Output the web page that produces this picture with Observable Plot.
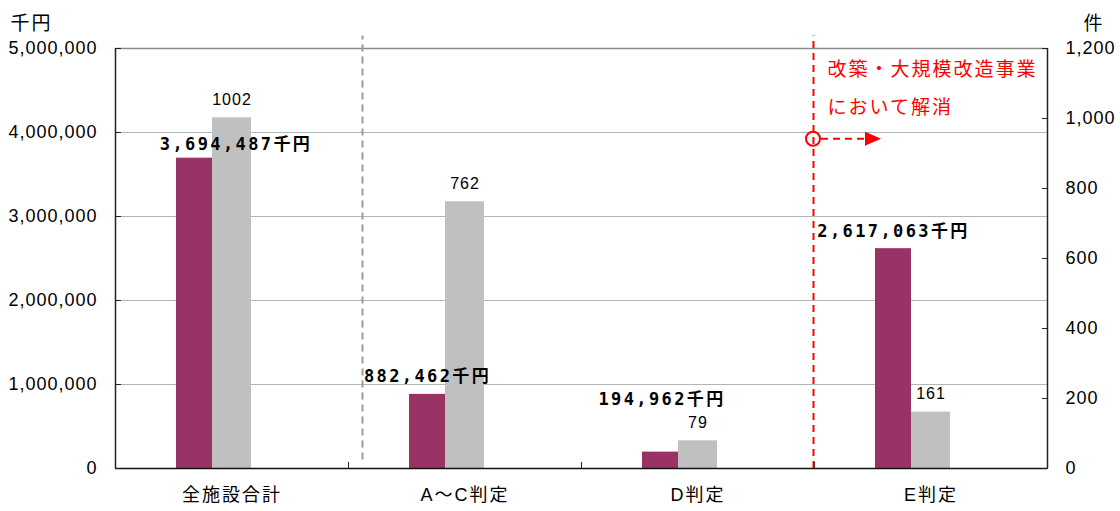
<!DOCTYPE html>
<html lang="ja">
<head>
<meta charset="utf-8">
<script src="https://cdn.jsdelivr.net/npm/d3@7"></script>
<script src="https://cdn.jsdelivr.net/npm/@observablehq/plot@0.6"></script>
<style>
  html, body { margin: 0; padding: 0; background: #fff; }
  #chart svg { display: block; }
</style>
</head>
<body>
<div id="chart"></div>
<script>
// 判定区分ごとの必要額（千円）と件数
const categories = ["全施設合計", "A～C判定", "D判定", "E判定"];
const amounts = [3694487, 882462, 194962, 2617063];   // 千円
const counts = [1002, 762, 79, 161];                   // 件
const amountTicks = [0, 1000000, 2000000, 3000000, 4000000, 5000000];
const countTicks = [0, 200, 400, 600, 800, 1000, 1200];
const amountUnit = "千円";
const countUnit = "件";
const noteLines = ["改築・大規模改造事業", "において解消"];
const noteCategory = "E判定";
const splitCategory = "A～C判定";

const amountMax = 5000000;
const countMax = 1200;
const k = amountMax / countMax; // 件数 → 左軸の単位へ

const rows = categories.map((c, i) => ({
  category: c,
  amount: amounts[i],
  count: counts[i],
  countY: counts[i] * k
}));

const fmt = d3.format(",");
const W = 1120, H = 511;
const ml = 115, mr = 73, mt = 48, mb = 43;
const bw = (W - ml - mr) / categories.length;

const lineTop = amountMax * 1.03;     // 破線は枠の少し上まで伸ばす
const splitBottom = amountMax * 0.02;
const noteLevel = 3920000;            // 丸印と矢印の高さ

// 丸印と破線矢印（E判定の区切り線から右向き）
function noteArrow(index, scales) {
  const x0 = scales.x(noteCategory) - 1;
  const y0 = scales.y(noteLevel);
  const g = d3.create("svg:g").attr("fill", "none").attr("stroke", "#ff0000").attr("stroke-width", 2);
  g.append("circle").attr("cx", x0).attr("cy", y0).attr("r", 7);
  g.append("line")
    .attr("x1", x0 + 8).attr("x2", x0 + 54)
    .attr("y1", y0).attr("y2", y0)
    .attr("stroke-dasharray", "7,5");
  g.append("path")
    .attr("d", `M${x0 + 52},${y0 - 7}L${x0 + 68},${y0}L${x0 + 52},${y0 + 7}Z`)
    .attr("fill", "#ff0000").attr("stroke", "none");
  return g.node();
}

const labelFont = "'DejaVu Sans Mono', 'Noto Sans CJK JP', monospace";
const amountText = d => fmt(d.amount) + amountUnit;

const chart = Plot.plot({
  width: W,
  height: H,
  marginLeft: ml,
  marginRight: mr,
  marginTop: mt,
  marginBottom: mb,
  style: {
    fontFamily: "'Liberation Sans', 'Noto Sans CJK JP', sans-serif",
    fontSize: "18px",
    color: "#000",
    background: "#fff",
    overflow: "visible"
  },
  x: { type: "band", domain: categories, paddingInner: 0, paddingOuter: 0 },
  y: { domain: [0, amountMax] },
  marks: [
    // 目盛線
    Plot.gridY(amountTicks, { stroke: "#b4b4b4", strokeOpacity: 1, strokeWidth: 1.2 }),
    Plot.ruleY([amountMax], { stroke: "#8a8a8a", strokeWidth: 1.5 }),

    // 棒：金額（左軸）と件数（右軸）
    Plot.barY(rows, { x: "category", y: "amount", fill: "#993366", insetLeft: 61, insetRight: 136 }),
    Plot.barY(rows, { x: "category", y: "countY", fill: "#c0c0c0", insetLeft: 97, insetRight: 97 }),

    // 軸線
    Plot.ruleX([categories[0]], { x: d => d, y1: 0, y2: amountMax, dx: -bw / 2, stroke: "#222", strokeWidth: 1.5 }),
    Plot.ruleX([categories[categories.length - 1]], { x: d => d, y1: 0, y2: amountMax, dx: bw / 2, stroke: "#222", strokeWidth: 1.5 }),
    Plot.ruleY([0], { stroke: "#111", strokeWidth: 1.5 }),

    // 左軸（千円）
    Plot.axisY(amountTicks, { anchor: "left", tickSize: 0, tickPadding: 18, tickFormat: fmt, label: null, fontSize: 18 }),
    Plot.axisY(amountTicks, { anchor: "left", tickSize: 6, dx: 6, fill: "none", stroke: "#222", label: null }),
    // 右軸（件）
    Plot.axisY(countTicks.map(v => v * k), { anchor: "right", tickSize: 0, tickPadding: 18, tickFormat: v => fmt(Math.round(v / k)), label: null, fontSize: 18 }),
    Plot.axisY(countTicks.map(v => v * k), { anchor: "right", tickSize: 6, dx: -6, fill: "none", stroke: "#222", label: null }),
    // 横軸
    Plot.axisX({ tickSize: 0, tickPadding: 20, label: null, fontSize: 18 }),
    Plot.axisX({ tickSize: 6, dy: -6, dx: -bw / 2, fill: "none", stroke: "#222", label: null }),

    // 単位
    Plot.text([amountUnit], { frameAnchor: "top-left", text: d => d, dx: -105, dy: -19, textAnchor: "start", lineAnchor: "bottom", fontSize: 19 }),
    Plot.text([countUnit], { frameAnchor: "top-right", text: d => d, dx: 36, dy: -19, textAnchor: "start", lineAnchor: "bottom", fontSize: 19 }),

    // 件数ラベル
    Plot.text(rows, { x: "category", y: "countY", text: d => String(d.count), dy: -13, lineAnchor: "bottom", fontSize: 16 }),

    // 金額ラベル
    Plot.text(rows.filter(d => d.category === "A～C判定" || d.category === "E判定"),
      { x: "category", y: "amount", text: amountText, dx: -37.5, dy: -12, lineAnchor: "bottom", fontSize: 17, fontWeight: "bold", fontFamily: labelFont }),
    Plot.text(rows.filter(d => d.category === "全施設合計"),
      { x: "category", y: "amount", text: amountText, dx: 4, dy: -8, lineAnchor: "bottom", fontSize: 17, fontWeight: "bold", fontFamily: labelFont }),
    Plot.text(rows.filter(d => d.category === "D判定"),
      { x: "category", y: "amount", text: amountText, dx: -36, dy: -47, lineAnchor: "bottom", fontSize: 17, fontWeight: "bold", fontFamily: labelFont }),

    // 区切りの破線
    Plot.ruleX([splitCategory], { x: d => d, y1: splitBottom, y2: lineTop, dx: -bw / 2 + 14, stroke: "#999", strokeWidth: 2, strokeDasharray: "7,5" }),
    Plot.ruleX([noteCategory], { x: d => d, y1: 0, y2: lineTop, dx: -bw / 2 - 1, stroke: "#ff0000", strokeWidth: 2, strokeDasharray: "7,5" }),

    // 注記
    Plot.text([{ category: noteCategory, label: noteLines.join("\n") }],
      { x: "category", frameAnchor: "top", text: "label", dx: -bw / 2 + 13, dy: 1, textAnchor: "start", lineAnchor: "top", lineHeight: 2, fontSize: 19, fill: "#ff0000", fontFamily: "'Noto Sans CJK JP', sans-serif" }),
    noteArrow
  ]
});

// 文字間隔：金額ラベルは広め、日本語の見出しは2px、数字は1px
const amountLabels = new Set(rows.map(amountText));
const wideLabels = new Set([...categories, amountUnit, countUnit]);
d3.select(chart).selectAll("text").each(function () {
  const t = this.textContent;
  let ls = null;
  if (amountLabels.has(t)) ls = "2.4px";
  else if (wideLabels.has(t) || noteLines.some(s => t.includes(s))) ls = "2px";
  else if (/^[\d,]+$/.test(t)) ls = "1px";
  if (ls) this.style.letterSpacing = ls;
});

document.getElementById("chart").appendChild(chart);
</script>
</body>
</html>
